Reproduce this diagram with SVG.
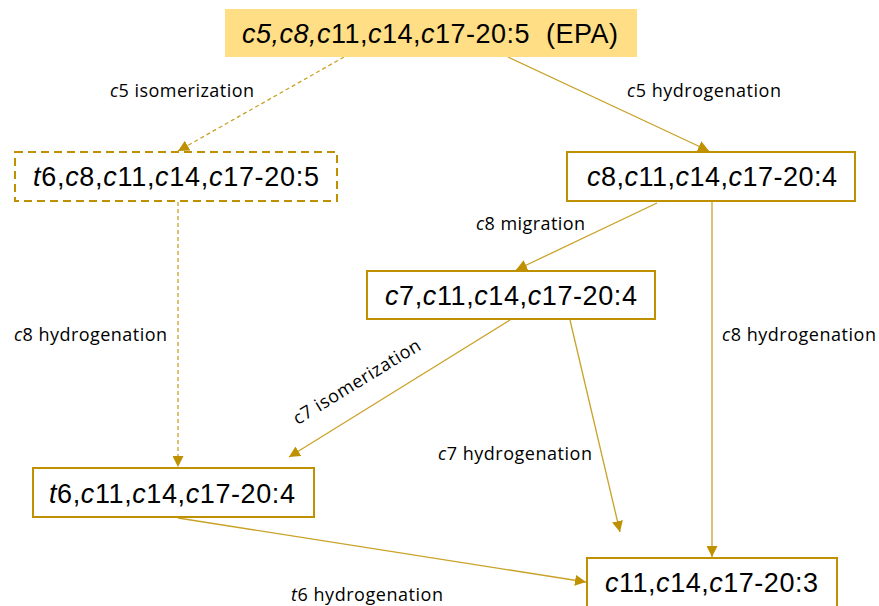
<svg xmlns="http://www.w3.org/2000/svg" width="879" height="606" viewBox="0 0 879 606">
<style>
.box{fill:#fff;stroke:#BF9000;stroke-width:2}
.dbox{fill:#fff;stroke:#BF9000;stroke-width:2;stroke-dasharray:8,5}
.top{fill:#FFDE85;stroke:none}
.node{font-family:"Liberation Sans",Arial,sans-serif;font-size:27px;fill:#000}
.lbl{font-family:"Open Sans","Noto Sans",sans-serif;font-size:18px;fill:#000}
.ln{stroke:#C9A227;stroke-width:1.3;fill:none;marker-end:url(#ah)}
.dl{stroke-dasharray:4,3}
.it{font-style:italic}
</style>
<defs>
<marker id="ah" markerUnits="userSpaceOnUse" markerWidth="11" markerHeight="11" refX="11" refY="5.5" orient="auto">
<path d="M0,0 L11,5.5 L0,11 z" fill="#BF9000"/>
</marker>
</defs>
<g id="connectors">
<line class="ln dl" x1="344" y1="57" x2="178" y2="151"/>
<line class="ln" x1="508" y1="57" x2="709" y2="151"/>
<line class="ln dl" x1="178" y1="202" x2="178" y2="467"/>
<line class="ln" x1="657" y1="203" x2="516" y2="270"/>
<line class="ln" x1="712" y1="202" x2="712" y2="557"/>
<line class="ln" x1="510" y1="320" x2="289" y2="457"/>
<line class="ln" x1="570" y1="320" x2="620" y2="532"/>
<line class="ln" x1="178" y1="518" x2="586" y2="582"/>
</g>
<g id="labels">
<text class="lbl" x="110" y="97" textLength="144"><tspan class="it">c</tspan>5 isomerization</text>
<text class="lbl" x="627" y="97" textLength="154"><tspan class="it">c</tspan>5 hydrogenation</text>
<text class="lbl" x="476" y="230" textLength="109"><tspan class="it">c</tspan>8 migration</text>
<text class="lbl" x="14" y="341" textLength="153"><tspan class="it">c</tspan>8 hydrogenation</text>
<text class="lbl" x="722" y="341" textLength="154"><tspan class="it">c</tspan>8 hydrogenation</text>
<text class="lbl" x="438" y="460" textLength="154"><tspan class="it">c</tspan>7 hydrogenation</text>
<text class="lbl" x="291" y="601" textLength="152"><tspan class="it">t</tspan>6 hydrogenation</text>
<text class="lbl" x="0" y="0" text-anchor="middle" textLength="146" transform="translate(360,387) rotate(-31.5)">c7 isomerization</text>
</g>
<g id="n-epa">
<rect class="top" x="225" y="9" width="412" height="48"/>
<text class="node" x="242" y="43" textLength="376" xml:space="preserve"><tspan class="it">c5,c8,c</tspan>11,<tspan class="it">c</tspan>14,<tspan class="it">c</tspan>17-20:5  (EPA)</text>
</g>
<g id="n-t6c8">
<rect class="dbox" x="15" y="152" width="322" height="49"/>
<text class="node" x="33" y="186" textLength="286"><tspan class="it">t</tspan>6,<tspan class="it">c</tspan>8,<tspan class="it">c</tspan>11,<tspan class="it">c</tspan>14,<tspan class="it">c</tspan>17-20:5</text>
</g>
<g id="n-c8">
<rect class="box" x="567" y="152" width="288" height="49"/>
<text class="node" x="587" y="186" textLength="250"><tspan class="it">c</tspan>8,<tspan class="it">c</tspan>11,<tspan class="it">c</tspan>14,<tspan class="it">c</tspan>17-20:4</text>
</g>
<g id="n-c7">
<rect class="box" x="367" y="271" width="288" height="48"/>
<text class="node" x="385" y="305" textLength="252"><tspan class="it">c</tspan>7,<tspan class="it">c</tspan>11,<tspan class="it">c</tspan>14,<tspan class="it">c</tspan>17-20:4</text>
</g>
<g id="n-t6c11">
<rect class="box" x="33" y="468" width="281" height="49"/>
<text class="node" x="49" y="503" textLength="246"><tspan class="it">t</tspan>6,<tspan class="it">c</tspan>11,<tspan class="it">c</tspan>14,<tspan class="it">c</tspan>17-20:4</text>
</g>
<g id="n-c11">
<rect class="box" x="587" y="558" width="250" height="60"/>
<text class="node" x="605" y="592" textLength="213"><tspan class="it">c</tspan>11,<tspan class="it">c</tspan>14,<tspan class="it">c</tspan>17-20:3</text>
</g>
</svg>
